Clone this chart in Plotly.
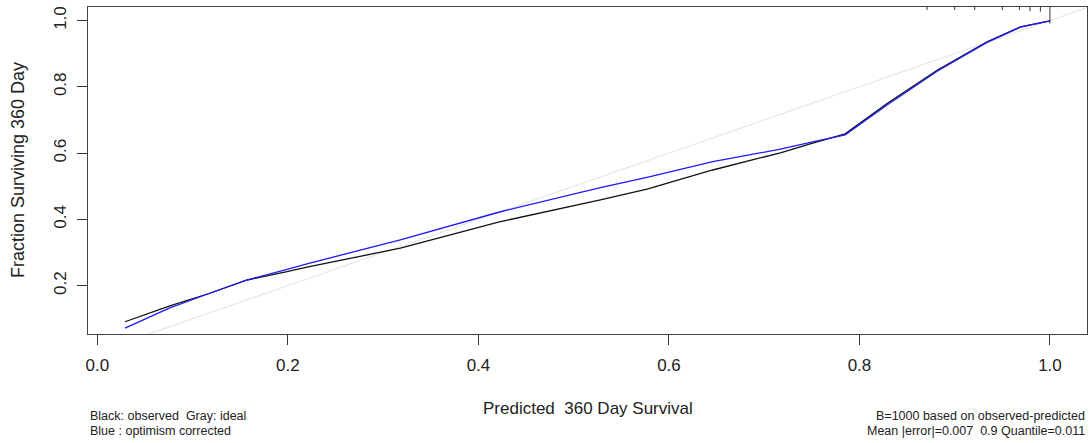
import plotly.graph_objects as go

# Predicted survival grid and calibration curves
pred_x = [0.0289, 0.076, 0.118, 0.157, 0.199, 0.220, 0.318, 0.423, 0.528, 0.577,
          0.646, 0.717, 0.751, 0.785, 0.829, 0.882, 0.934, 0.969, 1.0]
observed = [0.091, 0.139, 0.177, 0.217, 0.242, 0.256, 0.313, 0.393, 0.459, 0.491,
            0.549, 0.601, 0.630, 0.658, 0.750, 0.851, 0.936, 0.981, 0.999]
corrected = [0.072, 0.133, 0.177, 0.217, 0.249, 0.266, 0.338, 0.423, 0.496, 0.527,
             0.574, 0.612, 0.634, 0.655, 0.745, 0.848, 0.934, 0.980, 0.999]
ideal = [0.0, 1.1]

# distribution of predictions (rug at top)
rug_x = [0.871, 0.900, 0.921, 0.950, 0.968, 0.979, 0.990, 1.000]
rug_h = [0.009, 0.009, 0.009, 0.009, 0.009, 0.013, 0.014, 0.05]

x_ticks = [0.0, 0.2, 0.4, 0.6, 0.8, 1.0]
y_ticks = [0.2, 0.4, 0.6, 0.8, 1.0]
x_range = [-0.0099, 1.0389]
y_range = [0.054, 1.041]

FONT = "Liberation Sans, Arial, sans-serif"

fig = go.Figure()

fig.add_trace(go.Scatter(x=ideal, y=ideal, mode="lines",
                         line=dict(color="#e6e6e6", width=1.2), hoverinfo="skip"))
fig.add_trace(go.Scatter(x=pred_x, y=observed, mode="lines",
                         line=dict(color="#111111", width=1.3)))
fig.add_trace(go.Scatter(x=pred_x, y=corrected, mode="lines",
                         line=dict(color="#1a1aff", width=1.3)))

rx, ry = [], []
for xv, hv in zip(rug_x, rug_h):
    rx += [xv, xv, None]
    ry += [y_range[1], y_range[1] - hv, None]
fig.add_trace(go.Scatter(x=rx, y=ry, mode="lines",
                         line=dict(color="#333333", width=1), hoverinfo="skip"))

axis_common = dict(showgrid=False, zeroline=False, showline=True, linecolor="#444444",
                   linewidth=1, mirror=True, ticks="outside", ticklen=10, tickwidth=1,
                   tickcolor="#333333", tickfont=dict(family=FONT, size=17, color="#222222"))

fig.update_xaxes(range=x_range, tickvals=x_ticks, ticktext=[f"{v:.1f}" for v in x_ticks],
                 ticklabelstandoff=6, **axis_common)
fig.update_yaxes(range=y_range, tickvals=y_ticks, ticktext=[f"{v:.1f}" for v in y_ticks],
                 tickangle=-90, ticklabelstandoff=4, **axis_common)

small = dict(family=FONT, size=12.5, color="#222222")
ann = [
    dict(text="Predicted  360 Day Survival", x=0.5, y=-0.229, xref="paper", yref="paper",
         xanchor="center", yanchor="middle", showarrow=False,
         font=dict(family=FONT, size=17, color="#222222")),
    dict(text="Fraction Surviving 360 Day", x=-0.070, y=0.5015, xref="paper", yref="paper",
         xanchor="center", yanchor="middle", textangle=-90, showarrow=False,
         font=dict(family=FONT, size=18, color="#222222")),
    dict(text="Black: observed  Gray: ideal", x=0.0, y=-0.250, xref="paper", yref="paper",
         xanchor="left", yanchor="middle", showarrow=False, font=small),
    dict(text="Blue : optimism corrected", x=0.0, y=-0.297, xref="paper", yref="paper",
         xanchor="left", yanchor="middle", showarrow=False, font=small),
    dict(text="B=1000 based on observed-predicted", x=0.9995, y=-0.250, xref="paper",
         yref="paper", xanchor="right", yanchor="middle", showarrow=False, font=small),
    dict(text="Mean |error|=0.007  0.9 Quantile=0.011", x=0.9995, y=-0.297, xref="paper",
         yref="paper", xanchor="right", yanchor="middle", showarrow=False, font=small),
]

fig.update_layout(width=1089, height=443, margin=dict(l=88, r=2, t=7, b=109),
                  plot_bgcolor="white", paper_bgcolor="white", showlegend=False,
                  hovermode=False, annotations=ann)

fig.write_html("out.html", config={"displayModeBar": False},
               post_script="document.body.style.margin='0';")
